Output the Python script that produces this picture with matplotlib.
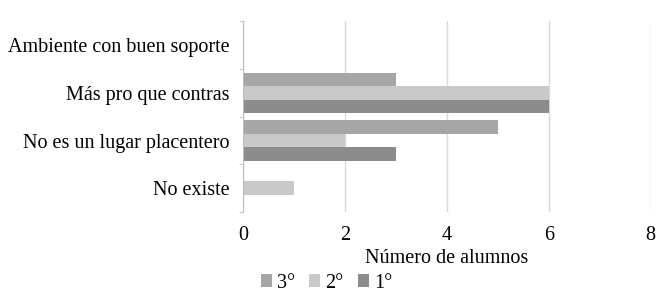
import numpy as np
import matplotlib.pyplot as plt

plt.rcParams["font.family"] = ["Liberation Serif", "DejaVu Serif"]

categorias = ["Ambiente con buen soporte", "Más pro que contras",
              "No es un lugar placentero", "No existe"]
series = ["3°", "2°", "1°"]
valores = {
    "3°": [0, 3, 5, 0],
    "2°": [0, 6, 2, 1],
    "1°": [0, 6, 3, 0],
}
colores = {"3°": "#a6a6a6", "2°": "#c9c9c9", "1°": "#8c8c8c"}
ticks_x = [0, 2, 4, 6, 8]


def grafico():
    fig = plt.figure(figsize=(6.66, 2.94), dpi=100)
    ax = fig.add_axes([0.365, 0.279, 0.612, 0.648])

    y = np.arange(len(categorias))
    h = 0.285
    for i, s in enumerate(series):
        ax.barh(y + (i - 1) * h, valores[s], height=h, color=colores[s],
                label=s, zorder=2)

    ax.set_ylim(len(categorias) - 0.5, -0.5)
    ax.set_xlim(0, 8)
    ax.set_xticks(ticks_x)
    ax.set_yticks(y)
    ax.set_yticklabels(categorias, fontsize=14.5)
    ax.set_yticks(np.arange(-0.5, len(categorias)), minor=True)
    ax.tick_params(axis="y", which="major", length=0, pad=10)
    ax.tick_params(axis="y", which="minor", length=3, color="#bfbfbf")
    ax.tick_params(axis="x", length=0, labelsize=14.5, pad=10)

    ax.grid(axis="x", color="#d9d9d9", lw=1, zorder=0)
    for sp in ["top", "right", "bottom"]:
        ax.spines[sp].set_visible(False)
    ax.spines["left"].set_color("#bfbfbf")

    ax.set_xlabel("Número de alumnos", fontsize=14.5, labelpad=3)
    fig.legend(loc="center left", bbox_to_anchor=(0.392, 0.037), ncol=3,
               frameon=False, fontsize=14.5, handlelength=0.55,
               handleheight=0.55, handletextpad=0.25, columnspacing=0.7,
               borderaxespad=0, borderpad=0)

    fig.savefig("out.png", dpi=100)


if __name__ == "__main__":
    grafico()
